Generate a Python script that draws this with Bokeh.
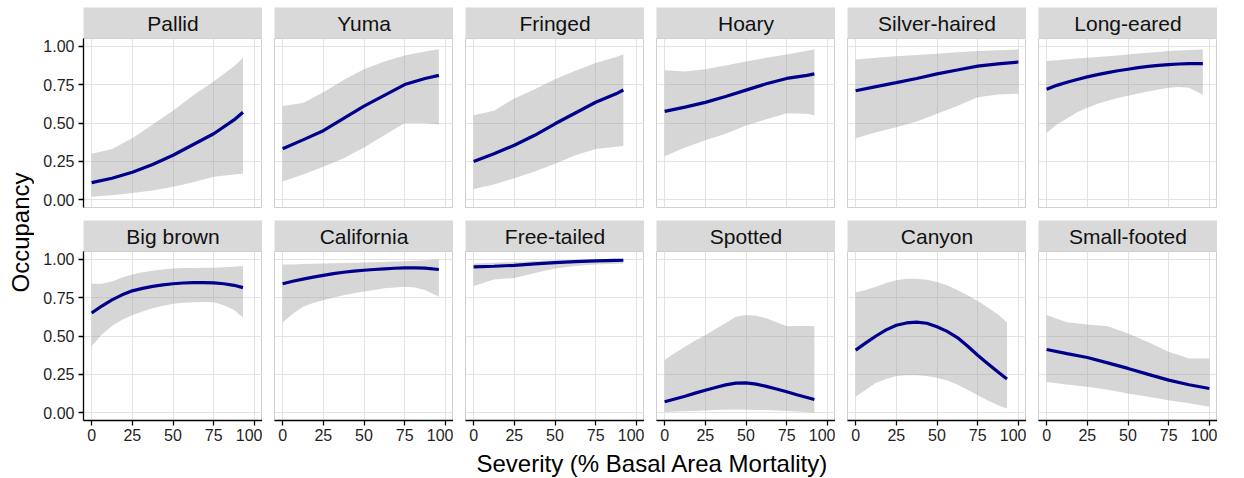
import math
from bokeh.plotting import figure
from bokeh.models import Range1d, FixedTicker, NumeralTickFormatter
from bokeh.layouts import column, row
from bokeh.embed import file_html
from bokeh.resources import INLINE

# ---------------- data ----------------
species_row1 = ["Pallid", "Yuma", "Fringed", "Hoary", "Silver-haired", "Long-eared"]
species_row2 = ["Big brown", "California", "Free-tailed", "Spotted", "Canyon", "Small-footed"]

x_ticks = [0, 25, 50, 75, 100]
y_ticks = [0.0, 0.25, 0.5, 0.75, 1.0]

severity = {
    "Pallid":       [0, 12.5, 25, 37.5, 50, 62.5, 75, 87.5, 93],
    "Yuma":         [0, 12.5, 25, 37.5, 50, 62.5, 75, 87.5, 96],
    "Fringed":      [0, 12.5, 25, 37.5, 50, 62.5, 75, 87.5, 92],
    "Hoary":        [0, 12.5, 25, 37.5, 50, 62.5, 75, 87.5, 92],
    "Silver-haired":[0, 12.5, 25, 37.5, 50, 62.5, 75, 87.5, 100],
    "Long-eared":   [0, 6.25, 12.5, 18.75, 25, 31.25, 37.5, 43.75, 50, 56.25, 62.5, 68.75, 75, 81.25, 87.5, 96],
    "Big brown":    [0, 6.25, 12.5, 18.75, 25, 31.25, 37.5, 43.75, 50, 56.25, 62.5, 68.75, 75, 81.25, 87.5, 93],
    "California":   [0, 6.25, 12.5, 18.75, 25, 31.25, 37.5, 43.75, 50, 56.25, 62.5, 68.75, 75, 81.25, 87.5, 96],
    "Free-tailed":  [0, 12.5, 25, 37.5, 50, 62.5, 75, 87.5, 92],
    "Spotted":      [0, 6.25, 12.5, 18.75, 25, 31.25, 37.5, 43.75, 50, 56.25, 62.5, 68.75, 75, 81.25, 87.5, 92],
    "Canyon":       [0, 6.25, 12.5, 18.75, 25, 31.25, 37.5, 43.75, 50, 56.25, 62.5, 68.75, 75, 81.25, 87.5, 93],
    "Small-footed": [0, 12.5, 25, 37.5, 50, 62.5, 75, 87.5, 100],
}

occupancy = {
    "Pallid":       [0.112, 0.14, 0.18, 0.23, 0.29, 0.36, 0.43, 0.52, 0.57],
    "Yuma":         [0.333, 0.39, 0.45, 0.53, 0.61, 0.68, 0.75, 0.79, 0.81],
    "Fringed":      [0.25, 0.30, 0.355, 0.42, 0.495, 0.565, 0.635, 0.69, 0.715],
    "Hoary":        [0.576, 0.603, 0.634, 0.672, 0.714, 0.755, 0.79, 0.81, 0.82],
    "Silver-haired":[0.71, 0.737, 0.763, 0.79, 0.82, 0.845, 0.87, 0.885, 0.897],
    "Long-eared":   [0.72, 0.745, 0.765, 0.783, 0.80, 0.815, 0.828, 0.84, 0.85, 0.86, 0.868, 0.875, 0.88, 0.884, 0.887, 0.886],
    "Big brown":    [0.65, 0.695, 0.735, 0.768, 0.794, 0.81, 0.823, 0.833, 0.84, 0.845, 0.847, 0.847, 0.846, 0.84, 0.83, 0.815],
    "California":   [0.84, 0.856, 0.87, 0.883, 0.895, 0.906, 0.915, 0.922, 0.928, 0.933, 0.937, 0.941, 0.944, 0.944, 0.942, 0.933],
    "Free-tailed":  [0.95, 0.954, 0.96, 0.969, 0.978, 0.984, 0.989, 0.992, 0.993],
    "Spotted":      [0.072, 0.09, 0.108, 0.128, 0.147, 0.165, 0.182, 0.193, 0.195, 0.187, 0.172, 0.155, 0.137, 0.118, 0.10, 0.087],
    "Canyon":       [0.408, 0.455, 0.50, 0.54, 0.57, 0.585, 0.59, 0.583, 0.56, 0.53, 0.49, 0.435, 0.375, 0.32, 0.265, 0.22],
    "Small-footed": [0.412, 0.385, 0.36, 0.325, 0.289, 0.25, 0.213, 0.183, 0.158],
}

upper_ci = {
    "Pallid":       [0.30, 0.33, 0.40, 0.49, 0.58, 0.68, 0.77, 0.87, 0.925],
    "Yuma":         [0.61, 0.63, 0.70, 0.78, 0.85, 0.90, 0.94, 0.965, 0.98],
    "Fringed":      [0.55, 0.58, 0.66, 0.72, 0.785, 0.84, 0.89, 0.93, 0.946],
    "Hoary":        [0.843, 0.835, 0.85, 0.875, 0.90, 0.925, 0.946, 0.97, 0.98],
    "Silver-haired":[0.914, 0.925, 0.935, 0.943, 0.95, 0.96, 0.968, 0.973, 0.978],
    "Long-eared":   [0.903, 0.909, 0.915, 0.92, 0.925, 0.93, 0.935, 0.94, 0.946, 0.952, 0.957, 0.962, 0.968, 0.972, 0.975, 0.978],
    "Big brown":    [0.84, 0.84, 0.855, 0.88, 0.90, 0.915, 0.925, 0.933, 0.94, 0.942, 0.943, 0.944, 0.945, 0.948, 0.95, 0.955],
    "California":   [0.965, 0.966, 0.968, 0.97, 0.972, 0.973, 0.975, 0.976, 0.978, 0.98, 0.982, 0.985, 0.987, 0.99, 0.993, 0.998],
    "Free-tailed":  [0.972, 0.977, 0.982, 0.988, 0.993, 0.996, 0.998, 0.999, 1.0],
    "Spotted":      [0.343, 0.39, 0.43, 0.47, 0.505, 0.545, 0.585, 0.625, 0.636, 0.632, 0.615, 0.59, 0.564, 0.565, 0.565, 0.564],
    "Canyon":       [0.783, 0.80, 0.82, 0.845, 0.863, 0.872, 0.873, 0.866, 0.852, 0.83, 0.80, 0.765, 0.727, 0.685, 0.64, 0.588],
    "Small-footed": [0.636, 0.59, 0.575, 0.564, 0.516, 0.46, 0.397, 0.354, 0.354],
}

lower_ci = {
    "Pallid":       [0.02, 0.03, 0.045, 0.06, 0.085, 0.115, 0.15, 0.165, 0.17],
    "Yuma":         [0.12, 0.165, 0.215, 0.27, 0.34, 0.42, 0.50, 0.50, 0.49],
    "Fringed":      [0.07, 0.10, 0.14, 0.185, 0.235, 0.29, 0.33, 0.345, 0.35],
    "Hoary":        [0.284, 0.34, 0.387, 0.43, 0.484, 0.525, 0.563, 0.56, 0.55],
    "Silver-haired":[0.40, 0.44, 0.473, 0.51, 0.56, 0.61, 0.667, 0.685, 0.69],
    "Long-eared":   [0.435, 0.49, 0.53, 0.57, 0.60, 0.625, 0.645, 0.662, 0.677, 0.692, 0.705, 0.718, 0.73, 0.735, 0.73, 0.684],
    "Big brown":    [0.434, 0.51, 0.565, 0.605, 0.635, 0.66, 0.68, 0.697, 0.71, 0.716, 0.72, 0.722, 0.72, 0.70, 0.67, 0.62],
    "California":   [0.588, 0.645, 0.69, 0.715, 0.733, 0.75, 0.765, 0.778, 0.79, 0.80, 0.81, 0.816, 0.82, 0.815, 0.80, 0.755],
    "Free-tailed":  [0.826, 0.868, 0.878, 0.91, 0.94, 0.955, 0.965, 0.97, 0.972],
    "Spotted":      [0.005, 0.008, 0.01, 0.012, 0.015, 0.018, 0.02, 0.021, 0.02, 0.019, 0.018, 0.015, 0.012, 0.008, 0.005, 0.0],
    "Canyon":       [0.104, 0.15, 0.195, 0.22, 0.24, 0.245, 0.245, 0.24, 0.228, 0.21, 0.185, 0.15, 0.115, 0.08, 0.05, 0.028],
    "Small-footed": [0.20, 0.185, 0.17, 0.15, 0.126, 0.105, 0.082, 0.062, 0.04],
}

x_title = "Severity (% Basal Area Mortality)"
y_title = "Occupancy"

# ---------------- style ----------------
FONT = "Liberation Sans"
FRAME_W, FRAME_H, STRIP_H = 179, 169, 31
TOP_PAD = 7
LEFT_W, GAP, ROW_GAP, AXIS_H = 49, 12, 13, 28
ROW1_BOTTOM = 7            # part of the row gap kept below row-1 panels
YT_W = 34
STRIP_FILL = "#d9d9d9"
GRID = "#e3e3e3"
BORDER = "#cfcfcf"
LINE = "#00008B"
TXT = "#1f1f1f"


def base_fig(w, h, xr, yr, **kw):
    return figure(width=w, height=h, x_range=xr, y_range=yr, output_backend="svg",
                  toolbar_location=None, min_border=0, **kw)


def strip_fig(name, left, top):
    s = base_fig(left + FRAME_W, top + STRIP_H, Range1d(0, 1), Range1d(0, 1),
                 x_axis_location=None, y_axis_location=None,
                 min_border_left=left, min_border_top=top,
                 min_border_right=0, min_border_bottom=0,
                 background_fill_color=STRIP_FILL, outline_line_color=None)
    s.xgrid.visible = False
    s.ygrid.visible = False
    s.text(x=[0.5], y=[0.5], text=[name], text_align="center", text_baseline="middle",
           text_font={"value": FONT}, text_font_size="21px", text_color="#111111")
    return s


def panel_fig(name, left, show_y, show_x):
    bottom = AXIS_H if show_x else ROW1_BOTTOM
    p = base_fig(left + FRAME_W, FRAME_H + bottom, Range1d(-5, 105), Range1d(-0.05, 1.05),
                 x_axis_location="below" if show_x else None,
                 y_axis_location="left" if show_y else None,
                 min_border_left=left, min_border_right=0, min_border_top=0,
                 min_border_bottom=bottom,
                 background_fill_color="white", outline_line_color=BORDER,
                 outline_line_width=1)
    p.xgrid.ticker = FixedTicker(ticks=x_ticks)
    p.ygrid.ticker = FixedTicker(ticks=y_ticks)
    for g in (p.xgrid, p.ygrid):
        g.grid_line_color = GRID
        g.grid_line_width = 1
    for ax in p.axis:
        ax.axis_line_color = "black"
        ax.axis_line_width = 1.3
        ax.major_tick_line_color = "black"
        ax.major_tick_line_width = 1.3
        ax.major_tick_in = 0
        ax.major_tick_out = 5
        ax.minor_tick_line_color = None
        ax.major_label_text_font = FONT
        ax.major_label_text_font_size = "16px"
        ax.major_label_text_color = TXT
    if show_x:
        p.xaxis.ticker = FixedTicker(ticks=x_ticks)
        p.xaxis.major_label_standoff = 3
    if show_y:
        p.yaxis.ticker = FixedTicker(ticks=y_ticks)
        p.yaxis.formatter = NumeralTickFormatter(format="0.00")
        p.yaxis.major_label_standoff = 4
    xs = severity[name]
    p.varea(x=xs, y1=lower_ci[name], y2=upper_ci[name], fill_color="#999999", fill_alpha=0.4)
    p.line(x=xs, y=occupancy[name], line_color=LINE, line_width=3.2)
    return p


def facet_row(names, top_gap, show_x):
    cols = []
    for i, nm in enumerate(names):
        left = LEFT_W if i == 0 else GAP
        cols.append(column(strip_fig(nm, left, top_gap), panel_fig(nm, left, i == 0, show_x)))
    return row(*cols)


r1 = facet_row(species_row1, TOP_PAD, False)
r2 = facet_row(species_row2, ROW_GAP - ROW1_BOTTOM, True)
grid_h = TOP_PAD + STRIP_H + FRAME_H + ROW_GAP + STRIP_H + FRAME_H + AXIS_H
grid_w = LEFT_W + FRAME_W + 5 * (GAP + FRAME_W)

# y title
yt = base_fig(YT_W, grid_h, Range1d(0, YT_W), Range1d(grid_h, 0),
              x_axis_location=None, y_axis_location=None, outline_line_color=None)
yt.xgrid.visible = False
yt.ygrid.visible = False
panels_mid = TOP_PAD + (STRIP_H + STRIP_H + FRAME_H + ROW_GAP + STRIP_H + FRAME_H) / 2 + 3
yt.text(x=[20], y=[panels_mid], text=[y_title], angle=math.pi / 2,
        text_align="center", text_baseline="middle",
        text_font={"value": FONT}, text_font_size="24px", text_color="black")

# x title
total_w = YT_W + grid_w
XT_H = 36
xt = base_fig(total_w, XT_H, Range1d(0, total_w), Range1d(XT_H, 0),
              x_axis_location=None, y_axis_location=None, outline_line_color=None)
xt.xgrid.visible = False
xt.ygrid.visible = False
panels_center = YT_W + LEFT_W + (grid_w - LEFT_W) / 2 + 2
xt.text(x=[panels_center], y=[15], text=[x_title],
        text_align="center", text_baseline="middle",
        text_font={"value": FONT}, text_font_size="24px", text_color="black")

layout = column(row(yt, column(r1, r2)), xt)

with open("out.html", "w") as fh:
    fh.write(file_html(layout, INLINE))
